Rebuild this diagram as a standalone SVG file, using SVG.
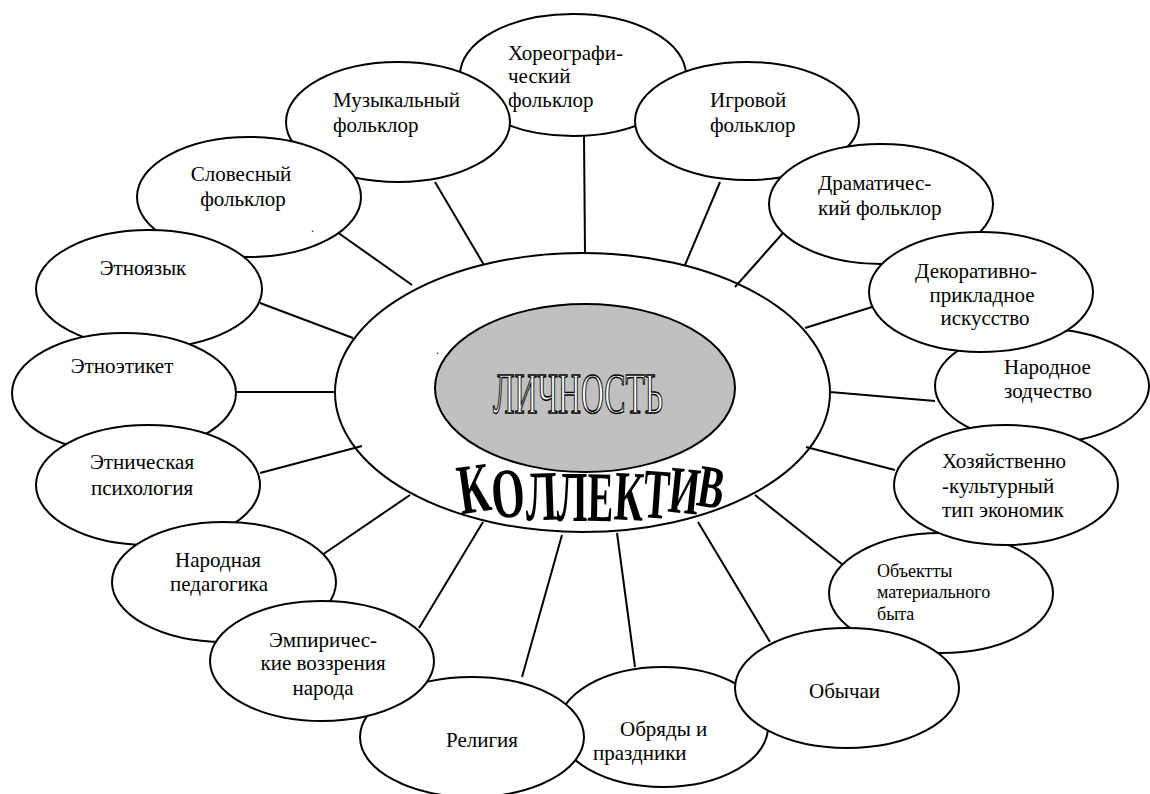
<svg xmlns="http://www.w3.org/2000/svg" width="1150" height="794" viewBox="0 0 1150 794">
<rect width="1150" height="794" fill="#fff"/>
<g id="collective">
<ellipse cx="582.5" cy="392.5" rx="247.5" ry="139.5" fill="#fff" stroke="#000" stroke-width="2"/>
<text font-family="Liberation Serif" font-weight="bold" font-size="71" text-anchor="middle" transform="translate(477,512) rotate(-8) scale(0.62,1)">К</text>
<text font-family="Liberation Serif" font-weight="bold" font-size="71" text-anchor="middle" transform="translate(510,517) rotate(-5) scale(0.6,1)">О</text>
<text font-family="Liberation Serif" font-weight="bold" font-size="71" text-anchor="middle" transform="translate(542,520) rotate(-2) scale(0.6,1)">Л</text>
<text font-family="Liberation Serif" font-weight="bold" font-size="71" text-anchor="middle" transform="translate(572,521) rotate(0) scale(0.58,1)">Л</text>
<text font-family="Liberation Serif" font-weight="bold" font-size="71" text-anchor="middle" transform="translate(600,521) rotate(1) scale(0.55,1)">Е</text>
<text font-family="Liberation Serif" font-weight="bold" font-size="71" text-anchor="middle" transform="translate(628,520) rotate(3) scale(0.57,1)">К</text>
<text font-family="Liberation Serif" font-weight="bold" font-size="71" text-anchor="middle" transform="translate(655,518) rotate(4) scale(0.55,1)">Т</text>
<text font-family="Liberation Serif" font-weight="bold" font-size="71" text-anchor="middle" transform="translate(682,513) rotate(6) scale(0.55,0.95)">И</text>
<text font-family="Liberation Serif" font-weight="bold" font-size="71" text-anchor="middle" transform="translate(708,507) rotate(9) scale(0.55,0.85)">В</text>
</g>
<g id="personality">
<ellipse cx="585" cy="388" rx="150" ry="84" fill="#c0c0c0" stroke="#000" stroke-width="2"/>
<text font-family="Liberation Serif" x="578" y="413" textLength="170" lengthAdjust="spacingAndGlyphs" font-size="57" text-anchor="middle" fill="#fff" stroke="#000" stroke-width="1.5">ЛИЧНОСТЬ</text>
</g>
<g id="connectors" stroke="#000" stroke-width="2">
<line x1="584" y1="135" x2="585" y2="253"/>
<line x1="435" y1="182" x2="484" y2="265"/>
<line x1="337" y1="232" x2="412" y2="285"/>
<line x1="260" y1="303" x2="353" y2="338"/>
<line x1="237" y1="392" x2="335" y2="392"/>
<line x1="260" y1="473" x2="362" y2="446"/>
<line x1="322" y1="555" x2="410" y2="495"/>
<line x1="419" y1="628" x2="483" y2="522"/>
<line x1="522" y1="677" x2="562" y2="535"/>
<line x1="635" y1="667" x2="617" y2="533"/>
<line x1="770" y1="642" x2="698" y2="522"/>
<line x1="843" y1="565" x2="755" y2="495"/>
<line x1="895" y1="470" x2="806" y2="447"/>
<line x1="935" y1="401" x2="830" y2="392"/>
<line x1="872" y1="307" x2="805" y2="328"/>
<line x1="783" y1="233" x2="735" y2="287"/>
<line x1="720" y1="182" x2="685" y2="265"/>
</g>
<g id="n-choreo"><ellipse cx="573" cy="75" rx="113" ry="61" fill="#fff" stroke="#000" stroke-width="2"/>
<text font-family="Liberation Serif" font-size="21" x="508" y="60">Хореографи-</text><text font-family="Liberation Serif" font-size="21" x="508" y="83">ческий</text><text font-family="Liberation Serif" font-size="21" x="508" y="107">фольклор</text></g>
<g id="n-music"><ellipse cx="398" cy="122" rx="112" ry="60" fill="#fff" stroke="#000" stroke-width="2"/>
<text font-family="Liberation Serif" font-size="21" x="333" y="107">Музыкальный</text><text font-family="Liberation Serif" font-size="21" x="333" y="132">фольклор</text></g>
<g id="n-game"><ellipse cx="747" cy="121" rx="112" ry="59" fill="#fff" stroke="#000" stroke-width="2"/>
<text font-family="Liberation Serif" font-size="21" x="710" y="107">Игровой</text><text font-family="Liberation Serif" font-size="21" x="710" y="132">фольклор</text></g>
<g id="n-verbal"><ellipse cx="249" cy="197" rx="112" ry="60" fill="#fff" stroke="#000" stroke-width="2"/>
<text font-family="Liberation Serif" font-size="21" text-anchor="middle" x="241" y="181">Словесный</text><text font-family="Liberation Serif" font-size="21" text-anchor="middle" x="243" y="206">фольклор</text>
<text font-family="Liberation Serif" font-size="12" x="311" y="232">.</text></g>
<g id="n-drama"><ellipse cx="881" cy="204" rx="112" ry="60" fill="#fff" stroke="#000" stroke-width="2"/>
<text font-family="Liberation Serif" font-size="21" x="818" y="190">Драматичес-</text><text font-family="Liberation Serif" font-size="21" x="818" y="215">кий фольклор</text></g>
<g id="n-lang"><ellipse cx="149" cy="289" rx="113" ry="59" fill="#fff" stroke="#000" stroke-width="2"/>
<text font-family="Liberation Serif" font-size="21" text-anchor="middle" x="143" y="275">Этноязык</text></g>
<g id="n-etiquette"><ellipse cx="124" cy="393" rx="112" ry="60" fill="#fff" stroke="#000" stroke-width="2"/>
<text font-family="Liberation Serif" font-size="21" text-anchor="middle" x="122" y="373">Этноэтикет</text></g>
<g id="n-psych"><ellipse cx="148" cy="485" rx="112" ry="60" fill="#fff" stroke="#000" stroke-width="2"/>
<text font-family="Liberation Serif" font-size="21" text-anchor="middle" x="142" y="469">Этническая</text><text font-family="Liberation Serif" font-size="21" text-anchor="middle" x="142" y="495">психология</text></g>
<g id="n-pedagogy"><ellipse cx="224" cy="582" rx="112" ry="60" fill="#fff" stroke="#000" stroke-width="2"/>
<text font-family="Liberation Serif" font-size="21" text-anchor="middle" x="218" y="567">Народная</text><text font-family="Liberation Serif" font-size="21" text-anchor="middle" x="219" y="591">педагогика</text></g>
<g id="n-architecture"><ellipse cx="1042" cy="386" rx="107" ry="57" fill="#fff" stroke="#000" stroke-width="2"/>
<text font-family="Liberation Serif" font-size="21" x="1004" y="374">Народное</text><text font-family="Liberation Serif" font-size="21" x="1004" y="398">зодчество</text></g>
<g id="n-decor"><ellipse cx="981" cy="292" rx="112" ry="60" fill="#fff" stroke="#000" stroke-width="2"/>
<text font-family="Liberation Serif" font-size="21" text-anchor="middle" x="976" y="278">Декоративно-</text><text font-family="Liberation Serif" font-size="21" text-anchor="middle" x="982" y="302">прикладное</text><text font-family="Liberation Serif" font-size="21" text-anchor="middle" x="985" y="325">искусство</text></g>
<g id="n-objects"><ellipse cx="941" cy="593" rx="112" ry="60" fill="#fff" stroke="#000" stroke-width="2"/>
<text font-family="Liberation Serif" font-size="18" x="877" y="577">Объектты</text><text font-family="Liberation Serif" font-size="18" x="877" y="598">материального</text><text font-family="Liberation Serif" font-size="18" x="877" y="620">быта</text></g>
<g id="n-economy"><ellipse cx="1006" cy="485" rx="112" ry="60" fill="#fff" stroke="#000" stroke-width="2"/>
<text font-family="Liberation Serif" font-size="21" x="942" y="468">Хозяйственно</text><text font-family="Liberation Serif" font-size="21" x="942" y="493">-культурный</text><text font-family="Liberation Serif" font-size="21" x="942" y="517">тип экономик</text></g>
<g id="n-rites"><ellipse cx="663" cy="727" rx="105" ry="60" fill="#fff" stroke="#000" stroke-width="2"/>
<text font-family="Liberation Serif" font-size="21" x="620" y="736">Обряды и</text><text font-family="Liberation Serif" font-size="21" x="593" y="760">праздники</text></g>
<g id="n-customs"><ellipse cx="847" cy="688" rx="112" ry="60" fill="#fff" stroke="#000" stroke-width="2"/>
<text font-family="Liberation Serif" font-size="21" x="809" y="698">Обычаи</text></g>
<g id="n-religion"><ellipse cx="472" cy="737" rx="112" ry="60" fill="#fff" stroke="#000" stroke-width="2"/>
<text font-family="Liberation Serif" font-size="21" text-anchor="middle" x="482" y="747">Религия</text></g>
<g id="n-empirical"><ellipse cx="322" cy="661" rx="112" ry="60" fill="#fff" stroke="#000" stroke-width="2"/>
<text font-family="Liberation Serif" font-size="21" text-anchor="middle" x="323" y="647">Эмпиричес-</text><text font-family="Liberation Serif" font-size="21" text-anchor="middle" x="323" y="670">кие воззрения</text><text font-family="Liberation Serif" font-size="21" text-anchor="middle" x="323" y="695">народа</text></g>
<text font-family="Liberation Serif" font-size="12" x="436" y="354">.</text>
</svg>
